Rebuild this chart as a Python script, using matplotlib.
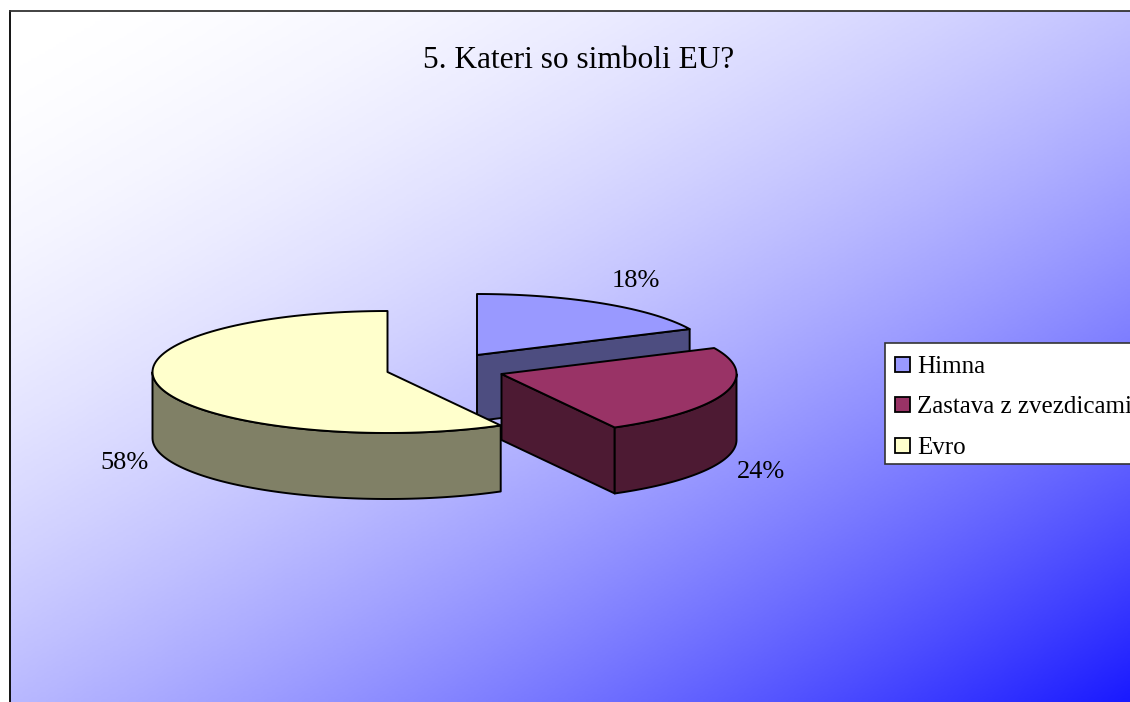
import numpy as np
import matplotlib
matplotlib.use("Agg")
import matplotlib.pyplot as plt
from matplotlib.patches import Polygon, Rectangle
from matplotlib.colors import LinearSegmentedColormap

TITLE = "5. Kateri so simboli EU?"
categories = ["Himna", "Zastava z zvezdicami", "Evro"]
values = [18, 24, 58]
top_colors = ["#9999ff", "#993366", "#ffffcc"]
side_colors = ["#4d4d80", "#4d1a33", "#808066"]

plt.rcParams["font.family"] = ["Liberation Serif", "DejaVu Serif"]
W, H = 1130, 702
fig = plt.figure(figsize=(W / 100, H / 100), dpi=100, facecolor="white")
ax = fig.add_axes([0, 0, 1, 1])
ax.set_xlim(0, W)
ax.set_ylim(H, 0)
ax.axis("off")

# background gradient
L, T = 10, 11
xx, yy = np.meshgrid(np.linspace(0, 1, 400), np.linspace(0, 1, 300))
t = np.clip(0.48 * xx + 0.52 * yy, 0, 1) ** 1.8
cmap = LinearSegmentedColormap.from_list("bg", ["#ffffff", "#1a1aff"])
ax.imshow(t, cmap=cmap, vmin=0, vmax=1, extent=(L, W, H, T), aspect="auto",
          interpolation="bilinear", zorder=0)
ax.set_xlim(0, W)
ax.set_ylim(H, 0)
ax.plot([L, L], [T, H], color="black", lw=1.3, zorder=1)
ax.plot([L, W], [T, T], color="#333333", lw=1.3, zorder=1)

RX, RY, DEPTH = 235, 61, 66
centers = [(477, 355), (501.5, 374), (387.5, 372)]
draw_order = [0, 1, 2]


def rim(c, a0, a1, n=100):
    a = np.radians(np.linspace(a0, a1, n))
    return np.column_stack([c[0] + RX * np.sin(a), c[1] - RY * np.cos(a)])


edges = np.cumsum([0] + values) / sum(values) * 360
for i in draw_order:
    c = centers[i]
    a0, a1 = edges[i], edges[i + 1]
    arc = rim(c, a0, a1)
    kw = dict(ec="black", lw=1.4, joinstyle="round")
    # visible cut wall (clockwise end, faces viewer) for the first two slices
    if i == 0:
        p = arc[-1]
        ax.add_patch(Polygon([c, p, (p[0], p[1] + DEPTH), (c[0], c[1] + DEPTH)],
                             fc=side_colors[i], zorder=2, **kw))
    if i == 1:
        q = arc[-1]
        ax.add_patch(Polygon([c, q, (q[0], q[1] + DEPTH), (c[0], c[1] + DEPTH)],
                             fc=side_colors[i], zorder=3, **kw))
    # outer wall: portion of rim that lies in front (90..270 degrees)
    lo, hi = max(a0, 90), min(a1, 270)
    if hi > lo:
        w = rim(c, lo, hi)
        wall = np.vstack([w, w[::-1] + [0, DEPTH]])
        ax.add_patch(Polygon(wall, fc=side_colors[i], zorder=3 + i, **kw))
    top = np.vstack([[c], arc])
    ax.add_patch(Polygon(top, fc=top_colors[i], zorder=3 + i, **kw))

ax.text(579, 60, TITLE, fontsize=22.6, ha="center", va="center", zorder=6)

label_pos = [(636, 281), (761, 472), (124, 463)]
for v, (x, y) in zip(values, label_pos):
    ax.text(x, y, f"{v}%", fontsize=19, ha="center", va="center", zorder=6)

# legend
ax.add_patch(Rectangle((884.5, 342.5), 300, 121.5, fc="white", ec="#333333", lw=1.2, zorder=6))
key_tops = [357, 397, 438]
for name, color, y in zip(categories, top_colors, key_tops):
    ax.add_patch(Rectangle((894.5, y), 15, 15, fc=color, ec="black", lw=1.3, zorder=7))
    ax.text(917, y + 10, name, fontsize=18, ha="left", va="center", zorder=7)

fig.savefig("out.png", dpi=100)
